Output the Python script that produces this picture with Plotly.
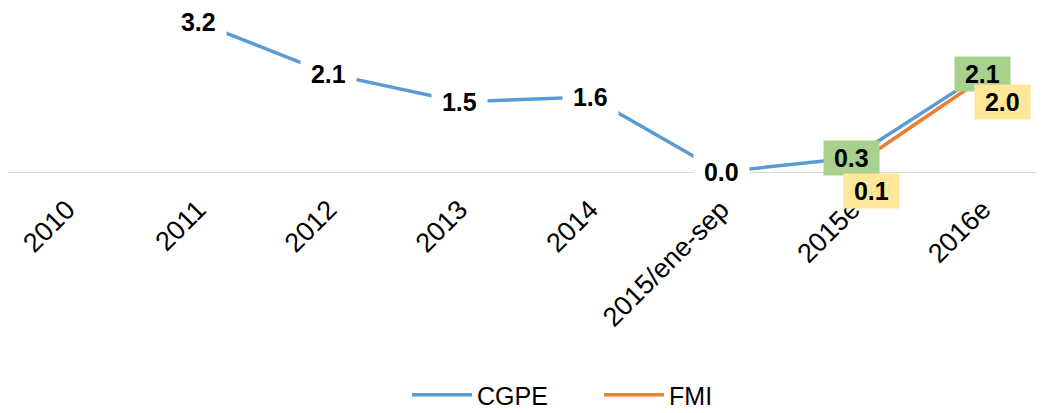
import plotly.graph_objects as go

categories = ["2010", "2011", "2012", "2013", "2014", "2015/ene-sep", "2015e", "2016e"]
cgpe = [None, 3.2, 2.1, 1.5, 1.6, 0.0, 0.3, 2.1]
fmi = [None, None, None, None, None, None, 0.1, 2.0]
cgpe_label_bg = ["white", "white", "white", "white", "white", "white", "#A9D18E", "#A9D18E"]
fmi_label_bg = "#FFE699"

BLUE = "#5B9BD5"
ORANGE = "#ED7D31"
FONT = "Liberation Sans"
NB = "\u00a0"

fig = go.Figure()
fig.add_trace(go.Scatter(x=categories, y=cgpe, mode="lines", name="CGPE",
                         line=dict(color=BLUE, width=3.5), connectgaps=False))
fig.add_trace(go.Scatter(x=categories, y=fmi, mode="lines", name="FMI",
                         line=dict(color=ORANGE, width=3.5)))

annotations = []
for i, (v, bg) in enumerate(zip(cgpe, cgpe_label_bg)):
    if v is None:
        continue
    annotations.append(dict(x=i, y=v, xref="x", yref="y", text=f"<b>{NB}{v:.1f}{NB}</b>",
                            showarrow=False, bgcolor=bg, borderpad=3,
                            font=dict(family=FONT, size=25, color="black")))
for i, v in enumerate(fmi):
    if v is None:
        continue
    annotations.append(dict(x=i, y=v, xref="x", yref="y", text=f"<b>{NB}{v:.1f}{NB}</b>",
                            showarrow=False, bgcolor=fmi_label_bg, borderpad=3,
                            xshift=20, yshift=-24,
                            font=dict(family=FONT, size=25, color="black")))

fig.update_layout(
    width=1036, height=405,
    margin=dict(l=0, r=0, t=0, b=241, autoexpand=False),
    paper_bgcolor="white", plot_bgcolor="white",
    font=dict(family=FONT, size=24, color="black"),
    annotations=annotations,
    showlegend=True,
    legend=dict(orientation="h", x=0.5705, xanchor="center", y=-1.36, yanchor="middle",
                font=dict(family=FONT, size=25, color="black"), itemwidth=60,
                entrywidth=117),
    xaxis=dict(type="category", categoryorder="array", categoryarray=categories,
               range=[-0.4526, 7.468], showgrid=False, zeroline=False,
               showline=True, linecolor="#D9D9D9", linewidth=1,
               ticks="", tickangle=-45, ticklabelstandoff=10, ticklabelshift=0,
               tickfont=dict(family=FONT, size=27, color="black")),
    yaxis=dict(range=[0, 3.5], showgrid=False, zeroline=False, showline=False,
               showticklabels=False, ticks=""),
)

fig.write_html("out.html")
